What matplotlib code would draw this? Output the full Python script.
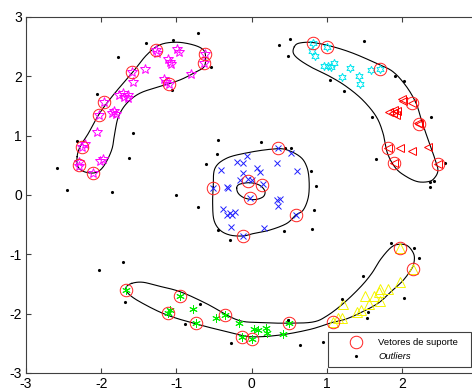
import numpy as np
import matplotlib
matplotlib.use("Agg")
import matplotlib.pyplot as plt
from matplotlib.lines import Line2D

plt.rcParams['font.family'] = ['Liberation Sans', 'DejaVu Sans']
plt.rcParams['axes.unicode_minus'] = False

# cluster points
mag_x = [-1.276, -1.26, -0.985, -0.965, -1.11, -1.09, -1.07, -0.615, -0.63, -0.80, -1.17, -1.14,
         -1.095, -1.587, -1.418, -1.574, -1.764, -1.716, -1.649, -1.698, -1.64, -1.96, -1.862,
         -1.827, -1.808, -2.03, -2.06, -2.26, -2.22, -2.29, -2.30, -2.01, -1.97, -2.115]
mag_y = [2.445, 2.39, 2.46, 2.41, 2.29, 2.25, 2.21, 2.37, 2.22, 2.04, 1.96, 1.91,
         1.87, 2.08, 2.12, 1.90, 1.686, 1.725, 1.686, 1.647, 1.636, 1.57, 1.388,
         1.417, 1.366, 1.35, 1.07, 0.81, 0.86, 0.55, 0.49, 0.58, 0.60, 0.37]

cyan_x = [0.823, 1.01, 0.81, 0.845, 0.97, 1.06, 1.10, 1.02, 1.205, 1.316, 1.43, 1.445, 1.59, 1.71]
cyan_y = [2.57, 2.50, 2.42, 2.34, 2.18, 2.16, 2.23, 2.17, 1.985, 2.14, 2.01, 1.87, 2.10, 2.125]

red_x = [2.0, 2.02, 2.13, 1.835, 1.88, 1.925, 1.90, 1.94, 2.225, 2.21, 1.81, 1.97, 2.13, 2.35, 1.90, 2.48]
red_y = [1.61, 1.58, 1.55, 1.405, 1.38, 1.35, 1.43, 1.42, 1.20, 1.22, 0.79, 0.79, 0.75, 0.815, 0.535, 0.52]

blue_x = [0.357, 0.52, 0.335, 0.60, -0.064, -0.197, -0.11, -0.41, 0.07, 0.113, -0.11, -0.153,
          -0.04, 0.0, 0.15, -0.33, -0.31, -0.51, -0.02, 0.335, 0.38, 0.357, -0.38, -0.33,
          -0.286, -0.22, -0.264, -0.277, 0.166, 0.59, -0.11]
blue_y = [0.79, 0.71, 0.535, 0.41, 0.65, 0.56, 0.535, 0.42, 0.45, 0.39, 0.366, 0.253,
          0.265, 0.25, 0.185, 0.13, 0.12, 0.11, -0.056, -0.084, -0.07, -0.185, -0.24, -0.34,
          -0.30, -0.28, -0.34, -0.545, -0.55, -0.337, -0.69]

green_x = [-1.67, -0.952, -1.085, -1.115, -0.775, -0.74, -0.477, -0.353, -0.16, -0.12,
           0.0, 0.037, 0.08, 0.19, 0.2, 0.415, 0.503]
green_y = [-1.60, -1.70, -1.93, -1.985, -1.92, -2.15, -2.07, -2.02, -2.16, -2.39,
           -2.42, -2.25, -2.28, -2.24, -2.33, -2.35, -2.16]

yel_x = [1.08, 1.15, 1.21, 1.22, 1.41, 1.46, 1.51, 1.635, 1.69, 1.715, 1.56, 1.71, 1.82, 1.97, 1.97, 2.15]
yel_y = [-2.14, -2.08, -2.07, -1.84, -1.97, -1.94, -1.70, -1.70, -1.63, -1.59, -1.83, -1.79, -1.585, -1.46, -0.90, -1.25]

# support vectors
sv_x = [-1.276, -0.615, -0.63, -1.587, -1.095, -1.96, -2.03, -2.26, -2.30, -2.115,
        0.823, 1.01, 1.71, 2.13, 2.225, 1.81, 1.90, 2.48,
        0.357, -0.51, -0.043, 0.144, -0.02, 0.59, -0.11,
        -1.67, -0.952, -1.115, -0.74, -0.353, -0.12, 0.0, 0.503,
        1.08, 1.97, 2.15]
sv_y = [2.445, 2.37, 2.22, 2.08, 1.87, 1.57, 1.35, 0.81, 0.51, 0.37,
        2.57, 2.50, 2.125, 1.55, 1.20, 0.79, 0.535, 0.52,
        0.79, 0.11, 0.24, 0.17, -0.056, -0.337, -0.69,
        -1.60, -1.70, -1.985, -2.15, -2.02, -2.39, -2.42, -2.16,
        -2.14, -0.90, -1.25]

# outliers
out_x = [-0.716, -1.05, -1.41, -1.78, -0.535, -1.06, -2.05, -1.58, -2.32, -1.635, -2.586, -2.45,
         -1.85, -1.01, -0.45, -0.46, -0.60,
         0.36, 0.51, 0.48, 1.50, 1.05, 1.23, 1.91, 2.035, 2.39, 1.60, 1.66, 2.58, 2.38, 2.43,
         2.38, 0.127, 0.45, 0.526, 0.79, 0.86,
         -0.716, 0.836, 0.806, 0.437, -0.44, -0.286,
         -1.707, -2.03, -1.68, -0.686, -0.885, -0.273, 1.86, 2.16, 2.23, 1.49, 1.205, 2.03,
         1.555, 1.54, 0.48, 0.64, 0.956]
out_y = [2.73, 2.61, 2.56, 2.32, 2.16, 1.77, 1.70, 1.05, 0.905, 0.62, 0.46, 0.09,
         0.05, 0.0, 0.93, 0.69, 0.52,
         2.52, 2.625, 2.34, 2.60, 1.93, 1.75, 2.00, 1.92, 1.31, 1.32, 0.60, 0.545, 0.225, 0.236,
         0.14, 0.90, 0.80, 0.79, 0.405, 0.16,
         -0.197, -0.26, -0.57, -0.60, -0.59, -0.76,
         -1.135, -1.265, -1.81, -1.84, -2.18, -2.50, -0.815, -0.89, -1.06, -1.36, -1.75, -1.74,
         -1.98, -2.08, -2.11, -2.53, -2.47]

# boundary outlines (closed curves)
b1_x = [-2.32, -2.28, -2.17, -2.02, -1.82, -1.574, -1.395, -1.22, -1.0, -0.775, -0.64, -0.61,
        -0.632, -0.73, -0.95, -1.22, -1.485, -1.66, -1.77, -1.82, -1.86, -1.97, -2.08, -2.22, -2.31]
b1_y = [0.646, 0.815, 1.04, 1.38, 1.715, 2.08, 2.36, 2.53, 2.575, 2.53, 2.445, 2.305,
        2.16, 2.08, 1.94, 1.83, 1.715, 1.545, 1.32, 1.04, 0.76, 0.48, 0.376, 0.39, 0.48]

b2_x = [0.57, 0.636, 0.815, 1.08, 1.35, 1.66, 1.88, 2.06, 2.19, 2.26, 2.35, 2.43, 2.48, 2.43,
        2.35, 2.21, 2.06, 1.92, 1.81, 1.75, 1.66, 1.48, 1.26, 1.04, 0.815, 0.636, 0.557]
b2_y = [2.50, 2.56, 2.57, 2.50, 2.39, 2.22, 2.08, 1.83, 1.545, 1.265, 0.93, 0.646, 0.42, 0.28,
        0.225, 0.225, 0.31, 0.45, 0.70, 1.04, 1.32, 1.60, 1.83, 2.0, 2.14, 2.28, 2.39]

b3_x = [-0.509, -0.486, -0.33, -0.064, 0.246, 0.446, 0.646, 0.735, 0.766, 0.757, 0.69, 0.59,
        0.468, 0.246, 0.024, -0.11, -0.286, -0.42, -0.5, -0.517]
b3_y = [0.14, 0.45, 0.62, 0.71, 0.77, 0.77, 0.646, 0.477, 0.25, -0.03, -0.25, -0.337,
        -0.48, -0.59, -0.65, -0.69, -0.675, -0.59, -0.42, -0.14]

b4_x = [-0.197, -0.176, -0.11, -0.02, 0.07, 0.136, 0.18, 0.157, 0.07, -0.02, -0.11, -0.176]
b4_y = [0.113, 0.17, 0.197, 0.207, 0.185, 0.14, 0.056, -0.028, -0.073, -0.073, -0.04, 0.028]

b5_x = [-1.595, -1.45, -1.25, -0.95, -0.60, -0.2, 0.1, 0.5, 0.82, 1.0, 1.22, 1.45, 1.6, 1.72,
        1.86, 1.97, 2.08, 2.16, 2.16, 2.12, 2.01, 1.88, 1.70, 1.49, 1.26, 1.07, 0.78, 0.38,
        0.0, -0.24, -0.686, -1.13, -1.485, -1.64, -1.67]
b5_y = [-1.49, -1.47, -1.53, -1.63, -1.83, -2.1, -2.15, -2.16, -2.14, -2.04, -1.83, -1.55,
        -1.32, -1.08, -0.88, -0.83, -0.86, -1.0, -1.15, -1.265, -1.45, -1.6, -1.81, -1.96,
        -2.09, -2.15, -2.265, -2.36, -2.39, -2.33, -2.19, -2.02, -1.80, -1.66, -1.56]


def smooth_closed(xs, ys, n=16):
    # periodic Catmull-Rom through the outline points
    p = np.column_stack([xs, ys])
    m = len(p)
    t = np.linspace(0, 1, n, endpoint=False)[:, None]
    segs = []
    for i in range(m):
        p0, p1, p2, p3 = p[i - 1], p[i], p[(i + 1) % m], p[(i + 2) % m]
        segs.append(0.5 * (2 * p1 + (-p0 + p2) * t + (2 * p0 - 5 * p1 + 4 * p2 - p3) * t ** 2
                           + (-p0 + 3 * p1 - 3 * p2 + p3) * t ** 3))
    segs.append(p[:1])
    return np.vstack(segs)


fig = plt.figure(figsize=(4.72, 3.90), dpi=100)
ax = fig.add_axes([26 / 472, 17 / 390, 451 / 472, 356 / 390])

for bx, by in [(b1_x, b1_y), (b2_x, b2_y), (b3_x, b3_y), (b4_x, b4_y), (b5_x, b5_y)]:
    c = smooth_closed(bx, by)
    ax.plot(c[:, 0], c[:, 1], color='black', lw=0.8)

mk = dict(linestyle='none', markerfacecolor='none', markeredgewidth=0.7)
ax.plot(mag_x, mag_y, marker='*', ms=7, markeredgecolor='#ff00ff', **mk)
ax.plot(cyan_x, cyan_y, marker=(6, 1, 0), ms=6, markeredgecolor='#00e5ee', **mk)
ax.plot(red_x, red_y, marker='<', ms=6, markeredgecolor='#ff0000', **mk)
ax.plot(blue_x, blue_y, marker='x', ms=5, markeredgecolor='#1f1fff', **mk)
ax.plot(green_x, green_y, marker=(6, 2, 0), ms=6, markeredgecolor='#00ee00', **mk)
ax.plot(yel_x, yel_y, marker='^', ms=6.5, markeredgecolor='#f5f500', **mk)
ax.plot(out_x, out_y, '.', color='black', ms=2.5)
ax.plot(sv_x, sv_y, marker='o', ms=9, markeredgecolor='#ff2020', **mk)

ax.set_xlim(-3, 3)
ax.set_ylim(-3, 3)
ax.set_xticks([-3, -2, -1, 0, 1, 2])
ax.set_yticks([-3, -2, -1, 0, 1, 2, 3])
ax.tick_params(direction='in', length=3.5, width=0.8, top=True, right=True,
               labelsize=10, pad=3, color='#404040')
for s in ax.spines.values():
    s.set_color('#404040')
    s.set_linewidth(0.8)

handles = [Line2D([], [], marker='o', ms=9, linestyle='none', markerfacecolor='none',
                  markeredgecolor='#ff2020', markeredgewidth=0.7),
           Line2D([], [], marker='.', ms=2.5, linestyle='none', color='black')]
leg = ax.legend(handles, ['Vetores de suporte', 'Outliers'], loc='lower left',
                bbox_to_anchor=(328 / 472, 23 / 390, 143 / 472, 38 / 390),
                bbox_transform=fig.transFigure, mode='expand',
                borderaxespad=0, fontsize=6.8, fancybox=False, framealpha=1,
                edgecolor='#404040', handlelength=4.6, handletextpad=0.05,
                borderpad=0.65, labelspacing=0.5)
leg.get_frame().set_linewidth(0.8)
leg.get_texts()[1].set_style('italic')

fig.savefig('out.png', dpi=100)
